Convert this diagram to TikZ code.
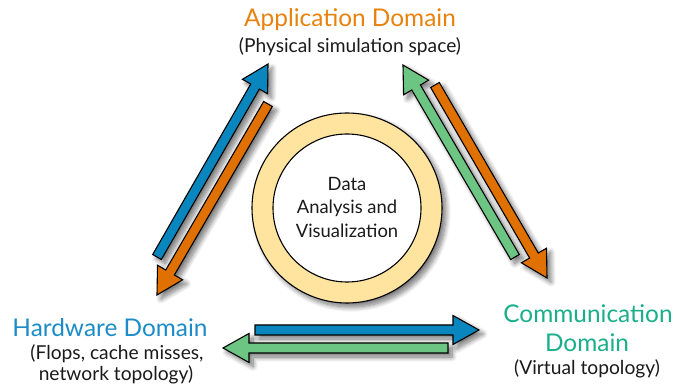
\documentclass[tikz,border=0pt]{standalone}
\usepackage{fontspec}
\setmainfont{Lato}
\usetikzlibrary{calc,shadows.blur}
\definecolor{arrblue}{HTML}{0A86BF}
\definecolor{arrorange}{HTML}{E07000}
\definecolor{arrgreen}{HTML}{6CC583}
\definecolor{ttlorange}{HTML}{E8820C}
\definecolor{ttlblue}{HTML}{1C8CC8}
\definecolor{ttlgreen}{HTML}{1AAF8A}
\definecolor{ringfill}{HTML}{FFE4A0}
\definecolor{txt}{HTML}{1A1A1A}
\tikzset{
  softshadow/.style={blur shadow={shadow xshift=4pt, shadow yshift=-4pt, shadow blur radius=5pt, shadow blur steps=12, shadow opacity=55}},
  fatarrowstyle/.style={draw=black, line width=1.1pt, line join=miter, softshadow},
  title/.style={font=\fontsize{24.4}{28}\selectfont, inner sep=0pt, anchor=base},
  subtitle/.style={font=\fontsize{19.2}{22}\selectfont, text=txt, inner sep=0pt, anchor=base},
  centertext/.style={font=\fontsize{18.4}{22}\selectfont, text=txt, inner sep=0pt, anchor=base}
}
\newcommand\fatarrow[3]{%
  \coordinate (#1#2c) at ($(#2)!26pt!(#1)$);
  \draw[fatarrowstyle, fill=#3]
    ($(#1)!5pt!90:(#2)$) -- ($(#1#2c)!5pt!90:(#2)$) -- ($(#1#2c)!14.5pt!90:(#2)$) -- (#2)
    -- ($(#1#2c)!14.5pt!-90:(#2)$) -- ($(#1#2c)!5pt!-90:(#2)$) -- ($(#1)!5pt!-90:(#2)$) -- cycle;
}
\begin{document}
\begin{tikzpicture}[x=1pt,y=-1pt]
\useasboundingbox (0,0) rectangle (689,387);
% central circle
\fill[ringfill, draw=black, line width=1.1pt, softshadow] (347,208) circle[radius=95pt];
\fill[white, draw=black, line width=1.1pt] (347,208) circle[radius=74pt];
\node[centertext] (dav1) at (347,191) {Data};
\node[centertext] (dav2) at (347,214) {Analysis and};
\node[centertext] (dav3) at (347,238) {Visualization};
% titles
\node[title, text=ttlorange] (app) at (350,27) {Application Domain};
\node[subtitle] (appsub) at (350,53) {(Physical simulation space)};
\node[title, text=ttlblue] (hw) at (110,337) {Hardware Domain};
\node[subtitle] (hwsub1) at (117,360) {(Flops, cache misses,};
\node[subtitle] (hwsub2) at (116,381) {network topology)};
\node[title, text=ttlgreen] (comm1) at (588,323) {Communication};
\node[title, text=ttlgreen] (comm2) at (587,352) {Domain};
\node[subtitle] (commsub) at (587,375) {(Virtual topology)};
% arrow end points
\coordinate (ha) at (157,257);
\coordinate (hb) at (268,64);
\coordinate (hc) at (268,104);
\coordinate (hd) at (157,295);
\coordinate (ra) at (515,257);
\coordinate (rb) at (403,65);
\coordinate (rc) at (435,85);
\coordinate (rd) at (547,278);
\coordinate (ba) at (255,330);
\coordinate (bb) at (479,330);
\coordinate (bc) at (448,348);
\coordinate (bd) at (223,348);
\fatarrow{ha}{hb}{arrblue}
\fatarrow{hc}{hd}{arrorange}
\fatarrow{ra}{rb}{arrgreen}
\fatarrow{rc}{rd}{arrorange}
\fatarrow{ba}{bb}{arrblue}
\fatarrow{bc}{bd}{arrgreen}
\end{tikzpicture}
\end{document}
